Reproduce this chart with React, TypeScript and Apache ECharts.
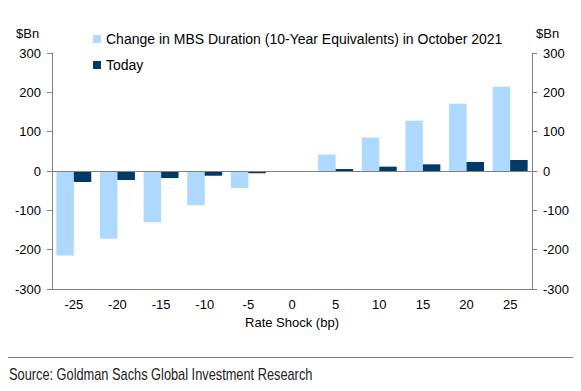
import React, { useEffect, useRef } from "react";
import * as echarts from "echarts";

const categories = ["-25", "-20", "-15", "-10", "-5", "0", "5", "10", "15", "20", "25"];
const mbsChange = [-215, -172, -130, -87, -43, 0, 42, 85, 128, 171, 214];
const today = [-28, -23, -18, -12, -6, 0, 5, 11, 17, 23, 28];
const seriesNames = ["Change in MBS Duration (10-Year Equivalents) in October 2021", "Today"];

const FONT = "'Liberation Sans', Arial, sans-serif";
const AXIS_GREY = "#808080";

export default function App() {
  const ref = useRef<HTMLDivElement>(null);
  useEffect(() => {
    document.body.style.margin = "0";
    const chart = echarts.init(ref.current!, null, { renderer: "svg" });
    const yAxisBase = {
      type: "value" as const,
      min: -300,
      max: 300,
      interval: 100,
      splitLine: { show: false },
      axisLine: { show: true, lineStyle: { color: AXIS_GREY, width: 1 } },
      axisTick: { show: true, length: 5, lineStyle: { color: AXIS_GREY } },
      axisLabel: { color: "#000", fontSize: 13, fontFamily: FONT, margin: 11 },
    };
    chart.setOption({
      animation: false,
      textStyle: { fontFamily: FONT },
      grid: { left: 52, right: 49, top: 53, bottom: 102 },
      legend: {
        orient: "vertical",
        left: 88,
        top: 27,
        itemWidth: 8,
        itemHeight: 8,
        itemGap: 12,
        icon: "rect",
        textStyle: { fontSize: 14, color: "#000", fontFamily: FONT },
        data: seriesNames,
      },
      xAxis: {
        type: "category",
        data: categories,
        axisLine: { onZero: false, lineStyle: { color: AXIS_GREY } },
        axisTick: { length: 4, lineStyle: { color: AXIS_GREY } },
        axisLabel: { color: "#000", fontSize: 13, fontFamily: FONT, margin: 9 },
        name: "Rate Shock (bp)",
        nameLocation: "middle",
        nameGap: 27,
        nameTextStyle: { color: "#000", fontSize: 13, fontFamily: FONT },
      },
      yAxis: [
        { ...yAxisBase, position: "left" },
        { ...yAxisBase, position: "right" },
      ],
      graphic: [
        { type: "text", left: 16, top: 27, style: { text: "$Bn", fontSize: 13, fontFamily: FONT, fill: "#000" } },
        { type: "text", left: 536, top: 27, style: { text: "$Bn", fontSize: 13, fontFamily: FONT, fill: "#000" } },
        { type: "line", shape: { x1: 8, y1: 357.5, x2: 573, y2: 357.5 }, style: { stroke: AXIS_GREY, lineWidth: 1 } },
        {
          type: "text",
          x: 9,
          y: 366,
          scaleX: 0.8,
          style: {
            text: "Source: Goldman Sachs Global Investment Research",
            fontSize: 16,
            fontFamily: FONT,
            fill: "#222",
          },
        },
      ],
      series: [
        {
          name: seriesNames[0],
          type: "bar",
          data: mbsChange,
          itemStyle: { color: "#ADD8FF" },
          barGap: "0%",
          barCategoryGap: "20%",
          markLine: {
            silent: true,
            symbol: "none",
            label: { show: false },
            lineStyle: { color: AXIS_GREY, type: "solid", width: 1 },
            data: [{ yAxis: 0 }],
          },
        },
        {
          name: seriesNames[1],
          type: "bar",
          data: today,
          itemStyle: { color: "#003A66" },
          barGap: "0%",
          barCategoryGap: "20%",
        },
      ],
    });
    return () => chart.dispose();
  }, []);
  return <div ref={ref} style={{ width: 581, height: 391 }} />;
}
